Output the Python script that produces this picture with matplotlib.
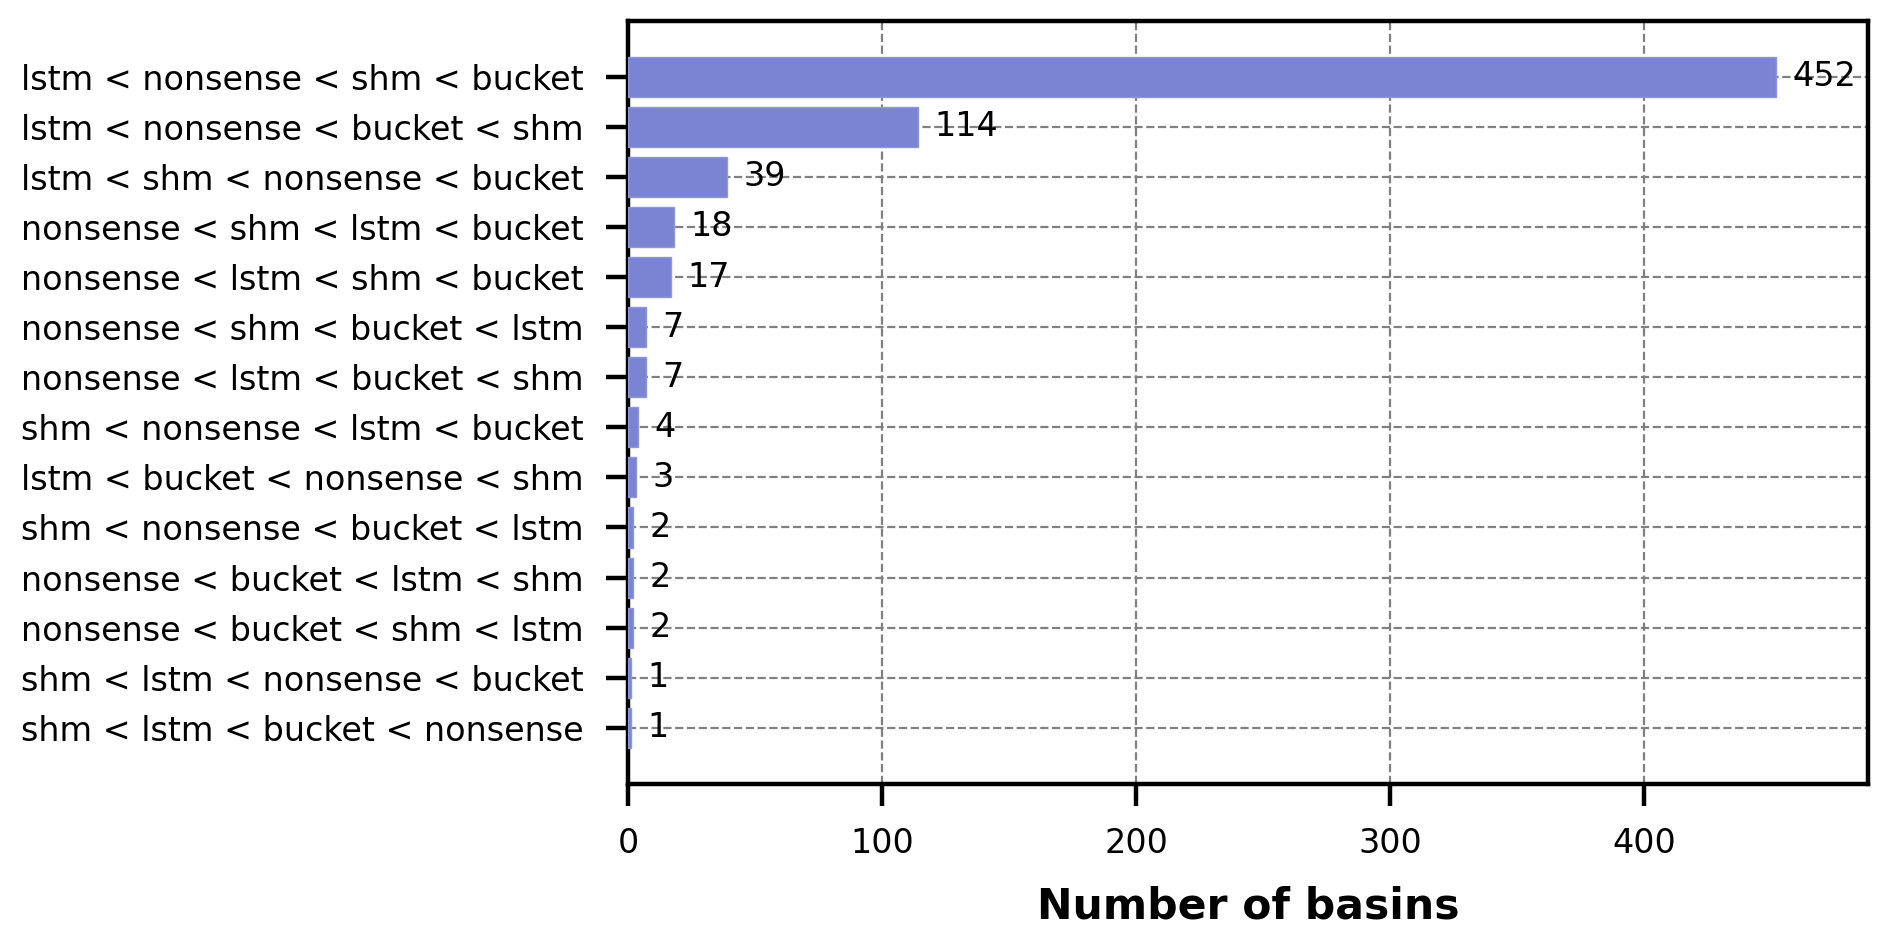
import matplotlib
matplotlib.use("Agg")
import matplotlib.pyplot as plt

# rankings (best < ... < worst) and how many basins fall in each
orders = [
    "lstm < nonsense < shm < bucket",
    "lstm < nonsense < bucket < shm",
    "lstm < shm < nonsense < bucket",
    "nonsense < shm < lstm < bucket",
    "nonsense < lstm < shm < bucket",
    "nonsense < shm < bucket < lstm",
    "nonsense < lstm < bucket < shm",
    "shm < nonsense < lstm < bucket",
    "lstm < bucket < nonsense < shm",
    "shm < nonsense < bucket < lstm",
    "nonsense < bucket < lstm < shm",
    "nonsense < bucket < shm < lstm",
    "shm < lstm < nonsense < bucket",
    "shm < lstm < bucket < nonsense",
]
counts = [452, 114, 39, 18, 17, 7, 7, 4, 3, 2, 2, 2, 1, 1]

plt.rcParams['font.family'] = ['DejaVu Sans']

fig = plt.figure(figsize=(9.46, 4.72), dpi=200)
ax = fig.add_axes([628/1892, 1 - 784/944, (1868-628)/1892, (784-21)/944])

pos = list(range(len(orders)))
bars = ax.barh(pos, counts, height=0.8, color='#7b84d3', edgecolor='#8e96dc',
               linewidth=0.5, zorder=3)
ax.bar_label(bars, labels=[str(c) for c in counts], padding=6, fontsize=12, zorder=4)

ax.set_yticks(pos)
ax.set_yticklabels(orders, fontsize=12)
ax.set_ylim(len(orders) - 1 + 1.12, -1.11)
ax.set_xlim(0, max(counts) * 1.08)
ax.set_xticks([0, 100, 200, 300, 400])
ax.tick_params(axis='x', labelsize=12, length=8, width=1.6, pad=7.5)
ax.tick_params(axis='y', length=8, width=1.6, pad=8)

ax.grid(True, linestyle='--', color='#808080', linewidth=0.8, zorder=0)
ax.set_axisbelow(True)
for s in ax.spines.values():
    s.set_linewidth(1.6)

ax.set_xlabel('Number of basins', fontsize=15.3, fontweight='bold', labelpad=9)

fig.savefig('out.png', dpi=200)
